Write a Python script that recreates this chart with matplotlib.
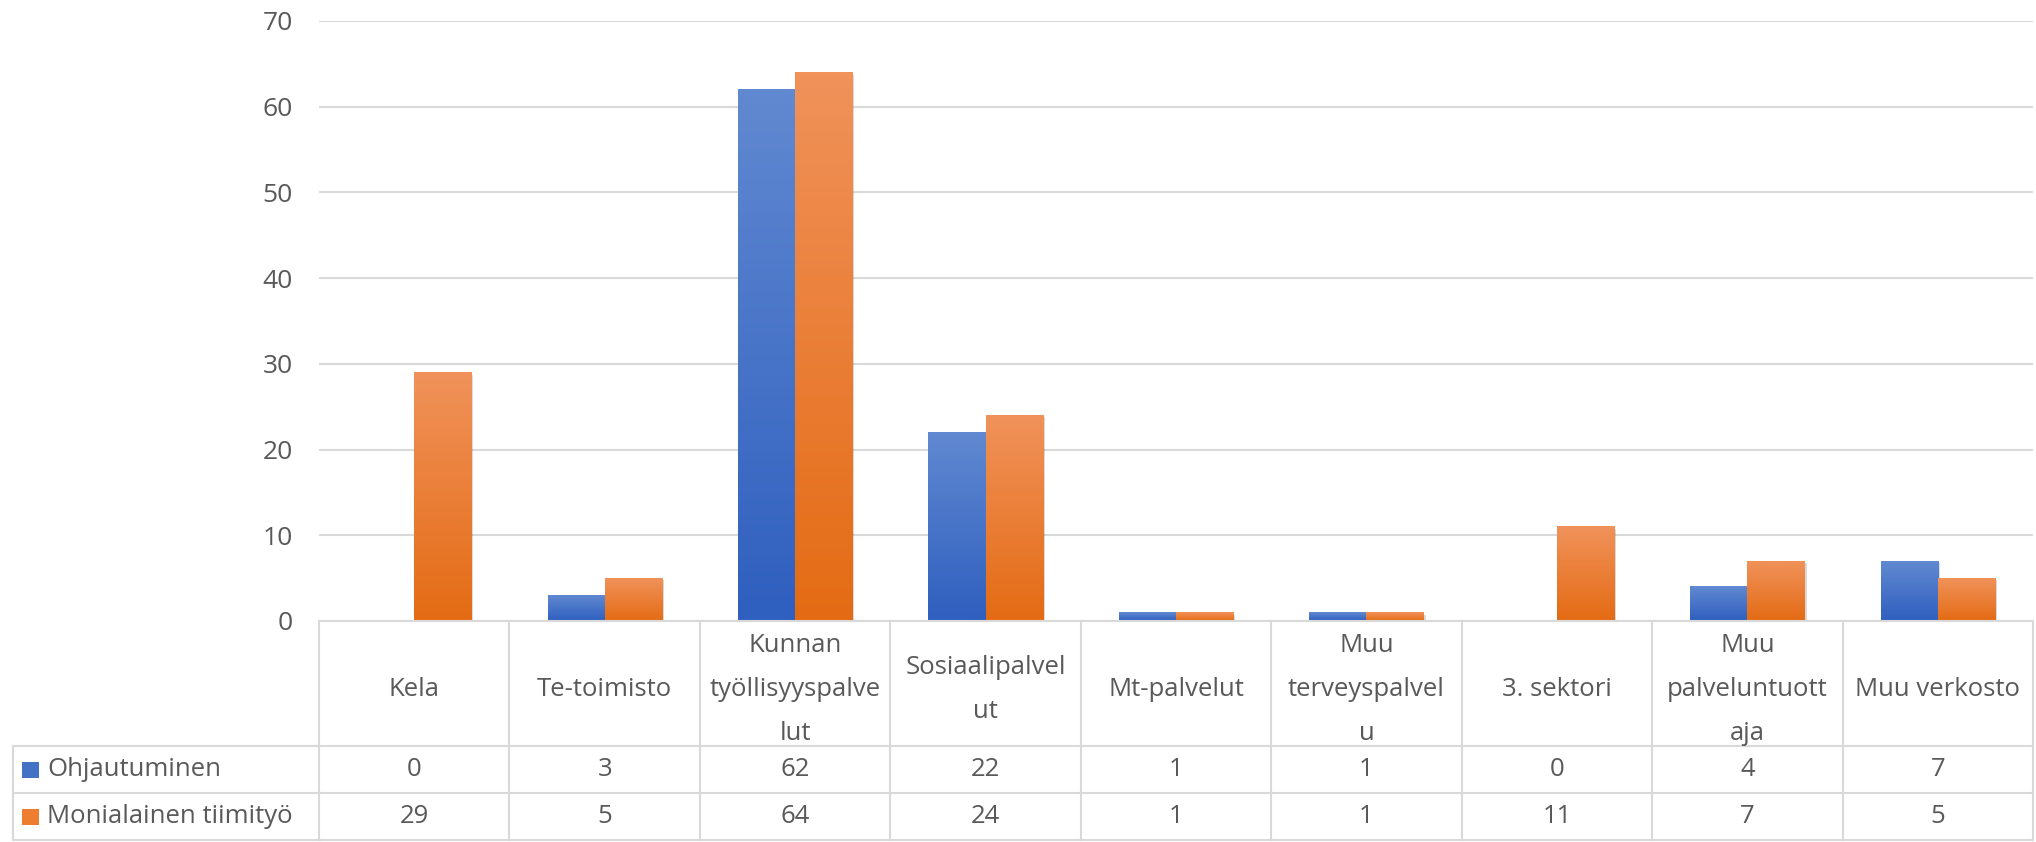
import numpy as np
import matplotlib.pyplot as plt
import matplotlib.patheffects as pe
from matplotlib.colors import LinearSegmentedColormap
from matplotlib.lines import Line2D
from matplotlib.patches import Rectangle
from matplotlib.transforms import blended_transform_factory

plt.rcParams['font.family'] = ['Open Sans', 'DejaVu Sans']

# data
categories = ['Kela', 'Te-toimisto', 'Kunnan\ntyöllisyyspalve\nlut', 'Sosiaalipalvel\nut',
              'Mt-palvelut', 'Muu\nterveyspalvel\nu', '3. sektori', 'Muu\npalveluntuott\naja',
              'Muu verkosto']
series_names = ['Ohjautuminen', 'Monialainen tiimityö']
ohjautuminen = [0, 3, 62, 22, 1, 1, 0, 4, 7]
monialainen = [29, 5, 64, 24, 1, 1, 11, 7, 5]
yticks = [0, 10, 20, 30, 40, 50, 60, 70]

blue = '#4472C4'
orange = '#ED7D31'
blue_grad = ['#2F5FBF', '#6189D1']      # bottom -> top
orange_grad = ['#E46B14', '#F0925A']
grid_col = '#D9D9D9'
text_col = '#595959'
fs = 18.5

W, H = 2036, 842
fig = plt.figure(figsize=(W / 100, H / 100), dpi=100)
ax = fig.add_axes([319 / W, 1 - 621 / H, (2033 - 319) / W, 600 / H])

x = np.arange(len(categories))
w = 0.3
bars1 = ax.bar(x - w / 2, ohjautuminen, w, color=blue, zorder=3)
bars2 = ax.bar(x + w / 2, monialainen, w, color=orange, zorder=3)

# excel-like gradient + soft shadow
for bars, cols in [(bars1, blue_grad), (bars2, orange_grad)]:
    cmap = LinearSegmentedColormap.from_list('g', cols)
    for b in bars:
        h = b.get_height()
        if h == 0:
            continue
        b.set_path_effects([pe.SimplePatchShadow(offset=(1.5, -1.5), shadow_rgbFace='k', alpha=0.15), pe.Normal()])
        ax.imshow(np.linspace(0, 1, 100).reshape(-1, 1), origin='lower', aspect='auto', cmap=cmap,
                  extent=[b.get_x(), b.get_x() + b.get_width(), 0, h], zorder=4)

ax.set_xlim(-0.5, len(categories) - 0.5)
ax.set_ylim(0, 70)
ax.set_yticks(yticks)
ax.set_xticks([])
ax.yaxis.grid(True, color=grid_col, lw=1.5)
ax.set_axisbelow(True)
for s in ax.spines.values():
    s.set_visible(False)
ax.tick_params(axis='y', length=0, pad=19, labelsize=19, labelcolor=text_col)

# data table under the chart
trans = blended_transform_factory(ax.transData, fig.transFigure)
y_top = 1 - 621 / H
y_h = 1 - 746 / H
y_r1 = 1 - 793 / H
y_r2 = 1 - 840 / H
x_lab = 13 / W
x_ax = 319 / W
x_end = len(categories) - 0.5

for yy in [y_top, y_h, y_r1, y_r2]:
    fig.add_artist(Line2D([-0.5, x_end], [yy, yy], transform=trans, color=grid_col, lw=1.5))
for yy in [y_h, y_r1, y_r2]:
    fig.add_artist(Line2D([x_lab, x_ax], [yy, yy], transform=fig.transFigure, color=grid_col, lw=1.5))
for i in range(len(categories) + 1):
    fig.add_artist(Line2D([i - 0.5, i - 0.5], [y_r2, y_top], transform=trans, color=grid_col, lw=1.5))
fig.add_artist(Line2D([x_lab, x_lab], [y_r2, y_h], transform=fig.transFigure, color=grid_col, lw=1.5))

for i, c in enumerate(categories):
    fig.text(i, (y_top + y_h) / 2 - 6 / H, c, transform=trans, ha='center', va='center',
             fontsize=fs, color=text_col, linespacing=2.0)

rows = [(ohjautuminen, blue, (y_h + y_r1) / 2), (monialainen, orange, (y_r1 + y_r2) / 2)]
for (vals, col, yc), name in zip(rows, series_names):
    for i, v in enumerate(vals):
        fig.text(i, yc, str(v), transform=trans, ha='center', va='center', fontsize=fs, color=text_col)
    fig.add_artist(Rectangle((22 / W, yc - 8 / H), 17 / W, 16 / H, transform=fig.transFigure,
                             color=col, lw=0))
    fig.text(47 / W, yc, name, ha='left', va='center', fontsize=fs, color=text_col)

plt.savefig('out.png', dpi=100)
